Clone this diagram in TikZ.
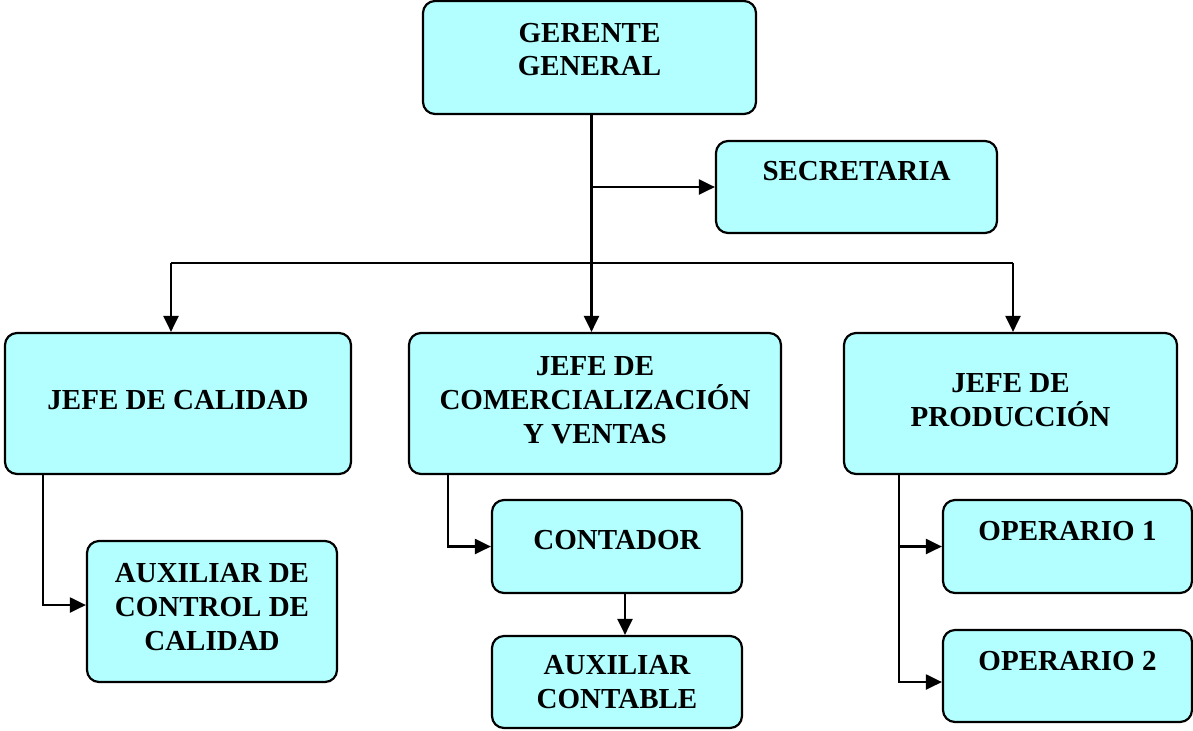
\documentclass[tikz,border=0pt]{standalone}
\usepackage{fontspec}
\setmainfont{Liberation Serif}
\usepackage{tikz}
\usetikzlibrary{positioning,arrows.meta}

\definecolor{boxcyan}{HTML}{B3FFFF}

\begin{document}
\begin{tikzpicture}[x=0.5pt,y=-0.5pt,
  cargo/.style={draw, fill=boxcyan, line width=1.1pt, rounded corners=6pt,
    inner sep=0pt, align=center, font=\bfseries\fontsize{14.5}{16.8}\selectfont},
  enlace/.style={line width=1.1pt, -{Triangle[length=8pt,width=7.5pt]}}]
\useasboundingbox (0,0) rectangle (1193,730);

% ===== Gerencia =====
\node[cargo, minimum width=166.5pt, minimum height=56.5pt, text depth=8pt]
  (gerente) at (589.5,57.5) {GERENTE\\GENERAL};
\node[cargo, minimum width=140.5pt, minimum height=46pt, text depth=16pt]
  (secretaria) at (856.5,187) {SECRETARIA};

% ===== Jefaturas =====
\node[cargo, minimum width=173pt, minimum height=70.5pt, text depth=3.5pt]
  (calidad) at (178,403.5) {JEFE DE CALIDAD};
\node[cargo, minimum width=186pt, minimum height=70.5pt, text depth=3.5pt]
  (comercial) at (595,403.5) {JEFE DE\\COMERCIALIZACIÓN\\Y VENTAS};
\node[cargo, minimum width=166.5pt, minimum height=70.5pt, text depth=3.5pt]
  (produccion) at (1010.5,403.5) {JEFE DE\\PRODUCCIÓN};

% ===== Personal =====
\node[cargo, minimum width=125pt, minimum height=70.5pt, text depth=4.5pt]
  (auxcalidad) at (212,611.5) {AUXILIAR DE\\CONTROL DE\\CALIDAD};
\node[cargo, minimum width=125pt, minimum height=46.5pt, text depth=6.5pt]
  (contador) at (617,546.5) {CONTADOR};
\node[cargo, minimum width=125pt, minimum height=46pt]
  (auxcontable) at (617,682) {AUXILIAR\\CONTABLE};
\node[cargo, minimum width=124.5pt, minimum height=46.5pt, text depth=15.5pt]
  (operario1) at (1067.5,546.5) {OPERARIO 1};
\node[cargo, minimum width=124.5pt, minimum height=46pt, text depth=15pt]
  (operario2) at (1067.5,676) {OPERARIO 2};

% ===== Conexiones =====
\coordinate (busL) at (171,263);
\coordinate (busR) at (1013,263);
\draw[enlace] ([xshift=1pt]gerente.south) -- ([xshift=1pt]gerente.south |- comercial.north);
\draw[enlace] ([xshift=1pt]gerente.south |- secretaria.west) -- (secretaria.west);
\draw[line width=1.1pt] (busL) -- (busR);
\draw[enlace] (busL) -- (busL |- calidad.north);
\draw[enlace] (busR) -- (busR |- produccion.north);

\draw[enlace] ([xshift=-67.5pt]calidad.south) |- ([yshift=3.25pt]auxcalidad.west);
\draw[enlace] ([xshift=-73.5pt]comercial.south) |- (contador.west);
\draw[enlace] ([xshift=4pt]contador.south) -- ([xshift=4pt]auxcontable.north);
\draw[enlace] ([xshift=-55.75pt]produccion.south) |- ([yshift=-3pt]operario2.west);
\draw[enlace] ([xshift=-55.75pt]produccion.south |- operario1.west) -- (operario1.west);

\end{tikzpicture}
\end{document}
